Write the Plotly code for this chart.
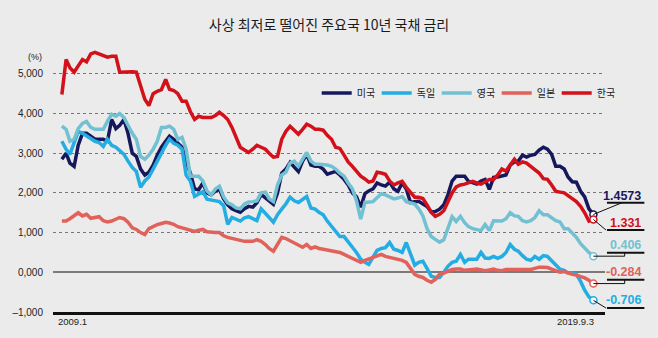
import pandas as pd
import plotly.graph_objects as go

# ---------------- data ----------------
dates = list(pd.date_range("2009-01-01", "2019-08-01", freq="MS")) + [pd.Timestamp("2019-09-03")]

names = ["미국", "독일", "영국", "일본", "한국"]

us = [2.85, 3.0, 2.75, 2.67, 3.2, 3.5, 3.5, 3.43, 3.35, 3.35,
      3.35, 3.3, 3.85, 3.62, 3.7, 3.85, 3.5, 3.0, 2.92, 2.6,
      2.45, 2.52, 2.7, 2.95, 3.15, 3.3, 3.43, 3.35, 3.25, 3.15,
      2.8, 2.5, 2.1, 2.08, 2.25, 2.0, 1.95, 2.05, 2.09, 1.85,
      1.7, 1.6, 1.55, 1.51, 1.6, 1.66, 1.64, 1.75, 1.96, 1.88,
      1.8, 1.71, 2.0, 2.5, 2.6, 2.77, 2.65, 2.54, 2.8, 2.97,
      2.7, 2.67, 2.67, 2.6, 2.47, 2.5, 2.54, 2.45, 2.34, 2.2,
      2.0, 1.9, 1.64, 1.98, 2.05, 2.1, 2.25, 2.2, 2.17, 2.27,
      2.1, 2.04, 2.25, 2.1, 1.76, 1.78, 1.79, 1.72, 1.66, 1.52,
      1.53, 1.59, 1.7, 1.95, 2.3, 2.42, 2.42, 2.42, 2.29, 2.25,
      2.22, 2.3, 2.34, 2.09, 2.39, 2.4, 2.42, 2.45, 2.7, 2.78,
      2.8, 2.95, 2.9, 2.95, 2.97, 3.08, 3.15, 3.1, 2.97, 2.67,
      2.67, 2.6, 2.4, 2.28, 2.27, 2.04, 1.9, 1.6, 1.4573]

de = [3.3, 3.1, 2.97, 3.3, 3.55, 3.5, 3.43, 3.35, 3.3, 3.27,
      3.17, 3.35, 3.2, 3.15, 3.05, 2.97, 2.8, 2.64, 2.54, 2.14,
      2.3, 2.4, 2.6, 2.8, 2.97, 3.2, 3.35, 3.25, 3.2, 3.1,
      2.45, 2.3, 1.91, 1.98, 2.03, 1.84, 1.82, 1.8, 1.78, 1.68,
      1.21, 1.38, 1.33, 1.29, 1.37, 1.4, 1.35, 1.3, 1.6, 1.5,
      1.38, 1.26, 1.45, 1.59, 1.72, 1.89, 1.8, 1.76, 1.85, 1.91,
      1.62, 1.59, 1.51, 1.45, 1.29, 1.15, 1.03, 0.9, 0.9, 0.75,
      0.63, 0.5, 0.33, 0.25, 0.2, 0.38, 0.55, 0.6, 0.62, 0.75,
      0.58, 0.55, 0.5, 0.75, 0.45, 0.18, 0.25, 0.28, 0.1, -0.1,
      -0.13, -0.13, 0.0, 0.15, 0.25, 0.28, 0.45, 0.25, 0.33, 0.33,
      0.33, 0.5, 0.36, 0.35, 0.4, 0.35, 0.4, 0.5, 0.7, 0.58,
      0.53, 0.42, 0.33, 0.3, 0.4, 0.33, 0.42, 0.4, 0.3, 0.2,
      0.08, 0.05, -0.02, -0.02, -0.05, -0.23, -0.45, -0.62, -0.706]

uk = [3.68, 3.6, 3.3, 3.35, 3.62, 3.75, 3.8, 3.65, 3.6, 3.6,
      3.6, 3.8, 3.98, 3.93, 4.0, 3.9, 3.7, 3.5, 3.35, 2.92,
      2.85, 2.95, 3.1, 3.3, 3.65, 3.65, 3.68, 3.6, 3.35, 3.4,
      3.1, 2.42, 2.42, 2.42, 2.3, 2.05, 1.95, 2.1, 2.17, 1.9,
      1.75, 1.7, 1.62, 1.6, 1.72, 1.77, 1.78, 1.8, 2.0, 2.02,
      1.85, 1.78, 2.2, 2.45, 2.52, 2.75, 2.8, 2.67, 2.85, 3.02,
      2.8, 2.72, 2.72, 2.72, 2.7, 2.67, 2.6, 2.5, 2.42, 2.25,
      2.1, 1.8, 1.34, 1.76, 1.76, 1.78, 1.88, 1.98, 1.95, 1.9,
      1.85, 1.87, 1.91, 1.78, 1.74, 1.72, 1.6, 1.42, 1.1, 0.9,
      0.83, 0.76, 0.82, 1.1, 1.4, 1.28, 1.41, 1.25, 1.15, 1.1,
      1.08, 1.05, 1.2, 1.05, 1.3, 1.3, 1.29, 1.35, 1.5, 1.42,
      1.41, 1.3, 1.27, 1.3, 1.38, 1.55, 1.45, 1.45, 1.36, 1.3,
      1.27, 1.1, 1.1, 1.0, 0.88, 0.72, 0.6, 0.5, 0.406]

jp = [1.29, 1.29, 1.35, 1.42, 1.5, 1.42, 1.46, 1.36, 1.37, 1.4,
      1.3, 1.27, 1.29, 1.34, 1.38, 1.35, 1.26, 1.12, 1.08, 1.0,
      0.95, 1.1, 1.16, 1.2, 1.23, 1.26, 1.24, 1.21, 1.15, 1.12,
      1.1, 1.06, 1.03, 1.06, 1.08, 1.02, 1.0, 1.0, 1.0, 0.92,
      0.88, 0.85, 0.83, 0.8, 0.78, 0.78, 0.78, 0.82, 0.78, 0.7,
      0.6, 0.53, 0.7, 0.88, 0.85, 0.8, 0.75, 0.68, 0.63, 0.7,
      0.6, 0.64, 0.6, 0.58, 0.56, 0.53, 0.52, 0.5, 0.45, 0.4,
      0.36, 0.3, 0.25, 0.3, 0.33, 0.37, 0.4, 0.45, 0.4, 0.38,
      0.35, 0.33, 0.3, 0.25, 0.1, -0.05, -0.1, -0.13, -0.2, -0.25,
      -0.18, -0.05, -0.02, 0.02, 0.07, 0.08, 0.08, 0.05, 0.05, 0.07,
      0.08, 0.05, 0.04, 0.06, 0.08, 0.05, 0.04, 0.07, 0.07, 0.08,
      0.06, 0.08, 0.08, 0.07, 0.1, 0.13, 0.13, 0.12, 0.08, 0.03,
      0.0, 0.02, -0.02, -0.05, -0.07, -0.1, -0.14, -0.2, -0.284]

kr = [4.48, 5.36, 5.15, 5.04, 5.2, 5.36, 5.3, 5.5, 5.54, 5.5,
      5.45, 5.42, 5.44, 5.44, 5.04, 5.05, 5.06, 5.05, 5.04, 4.7,
      4.36, 4.2, 4.5, 4.56, 4.6, 4.86, 4.61, 4.58, 4.5, 4.31,
      4.31, 4.05, 3.85, 3.93, 3.9, 3.9, 3.9, 3.95, 4.03, 3.95,
      3.85, 3.65, 3.4, 3.15, 3.08, 3.02, 3.1, 3.2, 3.15, 3.1,
      3.0, 2.9, 2.92, 3.35, 3.55, 3.68, 3.58, 3.48, 3.6, 3.73,
      3.68, 3.6, 3.6, 3.58, 3.45, 3.35, 3.15, 3.12, 2.95, 2.78,
      2.67, 2.55, 2.42, 2.35, 2.27, 2.3, 2.52, 2.5, 2.47, 2.3,
      2.2, 2.25, 2.29, 2.14, 2.0, 1.89, 1.89, 1.86, 1.7, 1.51,
      1.41, 1.46, 1.55, 1.75, 2.0, 2.15, 2.2, 2.22, 2.25, 2.29,
      2.25, 2.22, 2.28, 2.34, 2.34, 2.45, 2.6, 2.55, 2.7, 2.85,
      2.72, 2.78, 2.75, 2.67, 2.58, 2.5, 2.36, 2.34, 2.2, 2.04,
      2.02, 2.0, 1.93, 1.86, 1.78, 1.66, 1.5, 1.29, 1.331]

end_labels = ["1.4573", "-0.706", "0.406", "-0.284", "1.331"]
ytick_vals = [-1, 0, 1, 2, 3, 4, 5]
ytick_text = ["–1,000", "0,000", "1,000", "2,000", "3,000", "4,000", "5,000"]
start_label = "2009.1"
end_label = "2019.9.3"
title = "사상 최저로 떨어진 주요국 10년 국채 금리"

# ---------------- style ----------------
colors = ["#17185c", "#23ade3", "#72c1d3", "#e0625b", "#d2111b"]
BG = "#ebebeb"
W, H = 658, 338
ML, MR, MT, MB = 44, 53, 46, 26
PW = W - ML - MR
PH = H - MT - MB
x_range = [pd.Timestamp("2008-10-28"), pd.Timestamp("2019-11-27")]
y_range = [-1, 5.7]
NUM_FONT = "Liberation Sans Narrow, Liberation Sans, Arial"
KR_FONT = "Noto Sans CJK KR"

def px_x(p):
    return (p - ML) / PW

series = [us, de, uk, jp, kr]
fig = go.Figure()
for name, vals, col in zip(names, series, colors):
    fig.add_trace(go.Scatter(x=dates, y=vals, name=name, mode="lines",
                             line=dict(color=col, width=3.5), hoverinfo="skip"))
for name, vals, col in zip(names, series, colors):
    fig.add_trace(go.Scatter(x=[dates[-1]], y=[vals[-1]], mode="markers", showlegend=False,
                             marker=dict(size=7, color="white", line=dict(color=col, width=1.5)),
                             hoverinfo="skip"))

# end-label placement (style): underline y, text y, connector elbow pixel x, style
label_pos = {
    "미국": dict(ul=1.75, ty=1.93, cx=622, elbow=False),
    "한국": dict(ul=1.065, ty=1.25, cx=606, elbow=False),
    "영국": dict(ul=0.49, ty=0.68, cx=625, elbow=True),
    "일본": dict(ul=-0.19, ty=0.0, cx=625, elbow=True),
    "독일": dict(ul=-0.9, ty=-0.71, cx=606, elbow=False),
}
x_end_paper = (dates[-1] - x_range[0]) / (x_range[1] - x_range[0])

shapes = []
annotations = []
for name, vals, col, lab in zip(names, series, colors, end_labels):
    p = label_pos[name]
    shapes.append(dict(type="line", xref="paper", yref="y", x0=px_x(607), x1=px_x(645),
                       y0=p["ul"], y1=p["ul"], line=dict(color="#111", width=2)))
    if p["elbow"]:
        shapes.append(dict(type="path", xref="paper", yref="y",
                           path=f"M{x_end_paper},{vals[-1]} L{px_x(p['cx'])},{vals[-1]} L{px_x(p['cx'])},{p['ul']}",
                           line=dict(color="#111", width=1)))
    else:
        shapes.append(dict(type="line", xref="paper", yref="y", x0=x_end_paper, y0=vals[-1],
                           x1=px_x(p["cx"]), y1=p["ul"], line=dict(color="#111", width=1)))
    annotations.append(dict(xref="paper", yref="y", x=px_x(644), y=p["ty"], text=f"<b>{lab}</b>",
                            xanchor="right", yanchor="middle", showarrow=False,
                            font=dict(family=NUM_FONT, size=12.5, color=col)))

annotations.append(dict(x=dates[0], y=-1, xref="x", yref="y", text=start_label, showarrow=False,
                        xanchor="left", yanchor="top", xshift=-6, yshift=-2,
                        font=dict(family=NUM_FONT, size=9.5, color="#222")))
annotations.append(dict(x=dates[-1], y=-1, xref="x", yref="y", text=end_label, showarrow=False,
                        xanchor="right", yanchor="top", xshift=3, yshift=-2,
                        font=dict(family=NUM_FONT, size=9.5, color="#222")))
annotations.append(dict(xref="paper", yref="y", x=px_x(26), y=5.42, text="(%)", showarrow=False,
                        xanchor="center", yanchor="middle",
                        font=dict(family=NUM_FONT, size=9, color="#222")))

fig.update_layout(
    width=W, height=H,
    margin=dict(l=ML, r=MR, t=MT, b=MB),
    paper_bgcolor=BG, plot_bgcolor=BG,
    title=dict(text=title, x=0.5, xanchor="center", y=1 - 25 / H, yanchor="middle",
               font=dict(family=KR_FONT, size=14, color="#1a1a1a")),
    showlegend=True,
    legend=dict(orientation="h", x=px_x(312), xanchor="left", y=(H - MB - 93) / PH, yanchor="middle",
                bgcolor="rgba(0,0,0,0)", entrywidth=15, entrywidthmode="pixels",
                font=dict(family=KR_FONT, size=10, color="#1a1a1a")),
    xaxis=dict(range=x_range, showgrid=False, zeroline=False, showticklabels=False,
               showline=True, linecolor="#111", linewidth=2.5, ticks=""),
    yaxis=dict(range=y_range, tickvals=ytick_vals, ticktext=ytick_text, showgrid=True,
               gridcolor="#777", griddash="dot", gridwidth=1,
               zeroline=True, zerolinecolor="#7a7a7a", zerolinewidth=1.5,
               ticks="", ticklabelstandoff=9, showline=False,
               tickfont=dict(family=NUM_FONT, size=10, color="#222")),
    shapes=shapes, annotations=annotations,
)

fig.write_html("out.html")
